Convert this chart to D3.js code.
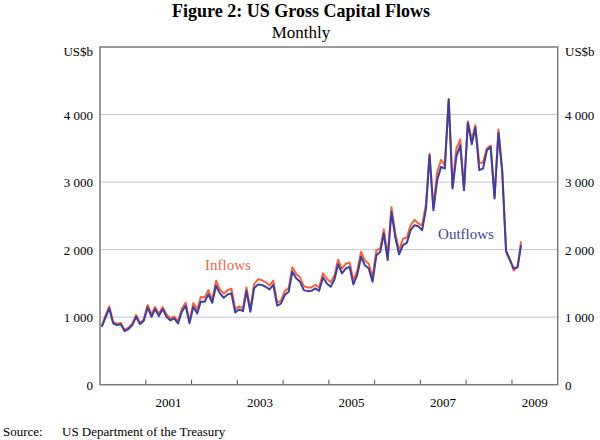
<html>
<head>
<meta charset="utf-8">
<script src="https://d3js.org/d3.v7.min.js"></script>
<style>
  body { margin: 0; background: #ffffff; }
  text { font-family: "Liberation Serif", "Times New Roman", serif; fill: #000; }
</style>
</head>
<body>
<div id="chart"></div>
<script>

// monthly, Jan 2000 to Mar 2009, US$b
var startYear = 2000;
var outflows = [
  858, 1000, 1130, 908, 884, 894, 794, 824, 884, 1006, 898, 942,
  1145, 1006, 1120, 1016, 1120, 1006, 952, 982, 908, 1080, 1169, 908,
  1154, 1055, 1228, 1228, 1337, 1213, 1465, 1352, 1287, 1337, 1352, 1070,
  1115, 1090, 1386, 1080, 1426, 1485, 1478, 1450, 1411, 1478, 1170, 1200,
  1327, 1376, 1672, 1575, 1524, 1400, 1385, 1390, 1426, 1390, 1588, 1500,
  1450, 1560, 1785, 1650, 1720, 1745, 1485, 1625, 1893, 1770, 1720, 1524,
  1918, 1967, 2240, 1845, 2560, 2180, 1930, 2067, 2100, 2288, 2362, 2347,
  2288, 2609, 3398, 2584, 3028, 3225, 3200, 4222, 2905, 3373, 3546, 2880,
  3876, 3560, 3807, 3176, 3200, 3472, 3520, 2757, 3728, 3150, 1968, 1845,
  1722, 1737, 2067
];
var inflows = [
  870, 1030, 1160, 930, 900, 915, 810, 845, 905, 1035, 915, 965,
  1180, 1040, 1150, 1050, 1150, 1040, 985, 1010, 940, 1120, 1215, 940,
  1210, 1110, 1300, 1290, 1400, 1260, 1540, 1410, 1350, 1400, 1420, 1120,
  1160, 1130, 1440, 1120, 1490, 1560, 1550, 1520, 1470, 1540, 1220, 1240,
  1390, 1430, 1740, 1640, 1590, 1460, 1440, 1440, 1480, 1440, 1650, 1570,
  1520, 1620, 1850, 1720, 1790, 1810, 1550, 1690, 1970, 1840, 1790, 1590,
  1990, 2020, 2300, 1900, 2630, 2240, 1990, 2160, 2180, 2360, 2440, 2390,
  2360, 2680, 3420, 2620, 3150, 3330, 3250, 4230, 2930, 3500, 3630, 2900,
  3900, 3630, 3840, 3280, 3290, 3500, 3540, 2780, 3780, 3200, 1990, 1860,
  1690, 1760, 2120
];
var yTicks = [0, 1000, 2000, 3000, 4000];
var yearTicks = [2001, 2002, 2003, 2004, 2005, 2006, 2007, 2008, 2009];
var yearLabels = [2001, 2003, 2005, 2007, 2009];

var W = 600, H = 440;
var plotL = 100, plotR = 557.7, plotT = 47, plotB = 384.7;

var svg = d3.select("#chart").append("svg")
    .attr("width", W)
    .attr("height", H);

var x = d3.scaleTime()
  .domain([new Date(2000, 0, 1), new Date(2010, 0, 1)])
  .range([plotL, plotR]);
var y = d3.scaleLinear()
  .domain([0, 5000])
  .range([plotB, plotT]);

var fmt = function(v) { return d3.format(",")(v).replace(/,/g, " "); };
var date = function(i) { return new Date(startYear, i, 15); };

// gridlines
svg.selectAll("grid")
  .data(yTicks.filter(function(d) { return d > 0; }))
  .enter()
  .append("line")
    .attr("x1", plotL).attr("x2", plotR)
    .attr("y1", function(d) { return y(d); })
    .attr("y2", function(d) { return y(d); })
    .attr("stroke", "#c4c4d4")
    .attr("stroke-width", 1);

// year ticks
svg.selectAll("xtick")
  .data(yearTicks)
  .enter()
  .append("line")
    .attr("x1", function(d) { return x(new Date(d, 0, 1)); })
    .attr("x2", function(d) { return x(new Date(d, 0, 1)); })
    .attr("y1", plotB)
    .attr("y2", plotB - 5)
    .attr("stroke", "#555")
    .attr("stroke-width", 1);

// series
var line = d3.line()
  .x(function(d, i) { return x(date(i)); })
  .y(function(d) { return y(d); });

svg.append("path")
  .datum(inflows)
  .attr("d", line)
  .attr("fill", "none")
  .attr("stroke", "#f4633f")
  .attr("stroke-width", 2)
  .attr("stroke-linejoin", "round");

svg.append("path")
  .datum(outflows)
  .attr("d", line)
  .attr("fill", "none")
  .attr("stroke", "#3f3fa0")
  .attr("stroke-width", 2)
  .attr("stroke-linejoin", "round");

// frame
svg.append("rect")
  .attr("x", plotL).attr("y", plotT)
  .attr("width", plotR - plotL).attr("height", plotB - plotT)
  .attr("fill", "none")
  .attr("stroke", "#7a7a7a")
  .attr("stroke-width", 1.5);

// y labels both sides
svg.selectAll("ylabL")
  .data(yTicks)
  .enter()
  .append("text")
    .attr("x", 93)
    .attr("y", function(d) { return y(d) + 5; })
    .attr("text-anchor", "end")
    .style("font-size", "13px")
    .text(fmt);
svg.selectAll("ylabR")
  .data(yTicks)
  .enter()
  .append("text")
    .attr("x", 565)
    .attr("y", function(d) { return y(d) + 5; })
    .style("font-size", "13px")
    .text(fmt);

svg.append("text").attr("x", 93).attr("y", 56).attr("text-anchor", "end")
  .style("font-size", "13px").text("US$b");
svg.append("text").attr("x", 565).attr("y", 56)
  .style("font-size", "13px").text("US$b");

// year labels centred in the year
svg.selectAll("xlab")
  .data(yearLabels)
  .enter()
  .append("text")
    .attr("x", function(d) { return x(new Date(d, 6, 1)); })
    .attr("y", 407)
    .attr("text-anchor", "middle")
    .style("font-size", "13px")
    .text(function(d) { return d; });

// titles
svg.append("text").attr("x", 301).attr("y", 17).attr("text-anchor", "middle")
  .style("font-size", "18px").style("font-weight", "bold")
  .text("Figure 2: US Gross Capital Flows");
svg.append("text").attr("x", 301).attr("y", 38).attr("text-anchor", "middle")
  .style("font-size", "17px")
  .text("Monthly");

// series labels
svg.append("text").attr("x", 228).attr("y", 270).attr("text-anchor", "middle")
  .style("font-size", "15px").style("fill", "#f4633f").text("Inflows");
svg.append("text").attr("x", 466).attr("y", 239).attr("text-anchor", "middle")
  .style("font-size", "15px").style("fill", "#3f3fa0").text("Outflows");

// source
svg.append("text").attr("x", 3).attr("y", 436)
  .style("font-size", "13px").text("Source:");
svg.append("text").attr("x", 62).attr("y", 436)
  .style("font-size", "13px").text("US Department of the Treasury");

</script>
</body>
</html>
